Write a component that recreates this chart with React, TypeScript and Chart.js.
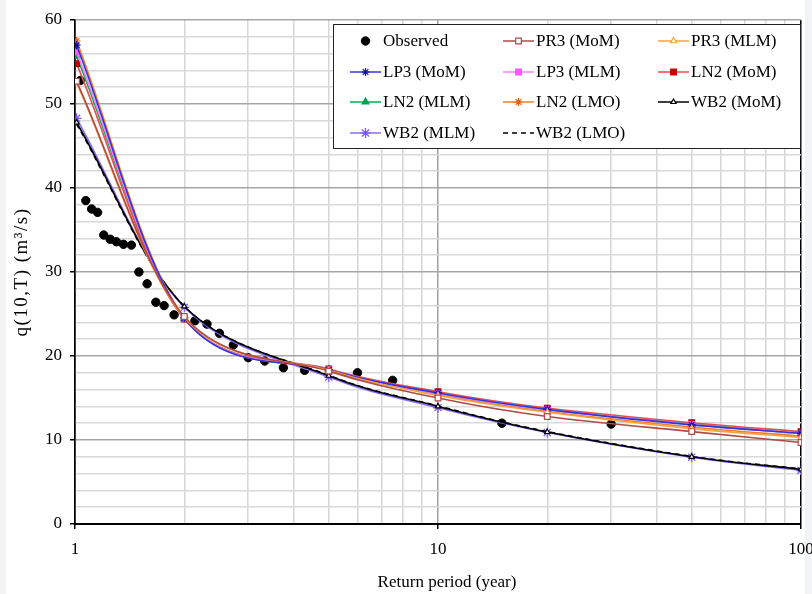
import React, { useEffect, useRef } from 'react';
import { Chart, registerables } from 'chart.js';
import { drawPoint } from 'chart.js/helpers';

Chart.register(...registerables);

const FONT = '"Liberation Serif", "Times New Roman", serif';

// Return periods of the fitted curves (markers)
const T_FIT = [1.01, 2, 5, 10, 20, 50, 100];

// Observed (plotting positions, year) and values (m3/s)
const OBS_T = [30, 15, 7.5, 6, 4.29, 3.75, 3.33, 3, 2.73, 2.5, 2.31, 2.14, 1.875, 1.76, 1.67, 1.58, 1.5, 1.43, 1.36, 1.3, 1.25, 1.2, 1.154, 1.111, 1.071, 1.034];
const OBS_Q = [11.9, 12.0, 17.1, 18.0, 18.3, 18.6, 19.4, 19.8, 21.3, 22.7, 23.8, 24.2, 24.9, 26.0, 26.4, 28.6, 30.0, 33.2, 33.3, 33.6, 33.9, 34.4, 37.1, 37.5, 38.5, 52.8];

const PR3_MOM = [52.7, 24.7, 18.2, 15.0, 12.8, 11.0, 9.7];
const PR3_MLM = [52.5, 24.6, 18.3, 15.3, 13.3, 11.35, 10.3];
const LP3_MOM = [57.0, 24.5, 18.35, 15.6, 13.65, 11.8, 10.8];
const LP3_MLM = [56.2, 24.5, 18.35, 15.55, 13.6, 11.85, 10.75];
const LN2_MOM = [54.8, 24.4, 18.45, 15.75, 13.8, 12.05, 11.0];
const LN2_MLM = [55.7, 24.45, 18.4, 15.6, 13.6, 11.9, 10.75];
const LN2_LMO = [57.5, 24.6, 18.3, 15.45, 13.4, 11.55, 10.45];
const WB2_MOM = [47.8, 25.9, 17.65, 14.0, 10.95, 8.0, 6.5];
const WB2_MLM = [48.3, 25.8, 17.5, 13.85, 10.9, 7.95, 6.4];
const WB2_LMO = [47.6, 25.9, 17.7, 14.05, 11.0, 8.05, 6.55];

const X_TICKS = [1, 2, 3, 4, 5, 6, 7, 8, 9, 10, 20, 30, 40, 50, 60, 70, 80, 90, 100];
const X_LABELS = [1, 10, 100];

const Y_TITLE = 'q(10,T) (m³/s)';
const X_TITLE = 'Return period (year)';

function curve(label: string, ys: number[], line: string, marker: string, pointStyle: any, fill: string, extra: any = {}) {
  return {
    label,
    data: T_FIT.map((t, i) => ({ x: t, y: ys[i] })),
    borderColor: line,
    backgroundColor: fill,
    pointStyle,
    pointBackgroundColor: fill,
    pointBorderColor: marker,
    pointBorderWidth: 1.2,
    pointRadius: 4,
    borderWidth: 1.6,
    tension: 0.3,
    order: 0,
    ...extra,
  };
}

// Spreadsheet-style smoothing: Bezier control points at 1/6 of the neighbour chord
const smoothPlugin = {
  id: 'spreadsheetSmooth',
  beforeDatasetDraw(chart: any, args: any) {
    const meta = args.meta;
    const line = meta.dataset;
    if (!line || !line.options || !line.options.tension) return;
    line.updateControlPoints(chart.chartArea, meta.iScale ? meta.iScale.axis : 'x');
    const pts = meta.data;
    const n = pts.length;
    for (let i = 0; i < n; i++) {
      const p = pts[i];
      const prev = pts[i - 1];
      const next = pts[i + 1];
      if (prev && next) {
        const dx = (next.x - prev.x) / 6;
        const dy = (next.y - prev.y) / 6;
        p.cp1x = p.x - dx; p.cp1y = p.y - dy;
        p.cp2x = p.x + dx; p.cp2y = p.y + dy;
      } else if (next) {
        p.cp1x = p.x; p.cp1y = p.y;
        p.cp2x = p.x + (next.x - p.x) / 3; p.cp2y = p.y + (next.y - p.y) / 3;
      } else if (prev) {
        p.cp1x = p.x - (p.x - prev.x) / 3; p.cp1y = p.y - (p.y - prev.y) / 3;
        p.cp2x = p.x; p.cp2y = p.y;
      }
    }
    line._path = undefined;
  },
};

export default function App() {
  const ref = useRef<HTMLCanvasElement>(null);

  useEffect(() => {
    const canvas = ref.current!;
    const datasets: any[] = [
      {
        label: 'Observed',
        data: OBS_T.map((t, i) => ({ x: t, y: OBS_Q[i] })),
        showLine: false,
        pointStyle: 'circle',
        pointRadius: 4.2,
        pointBackgroundColor: '#000',
        pointBorderColor: '#000',
        borderColor: '#000',
        backgroundColor: '#000',
        tension: 0,
        order: 1,
      },
      curve('PR3 (MoM)', PR3_MOM, '#b04a45', '#b04a45', 'rect', '#ffffff'),
      curve('PR3 (MLM)', PR3_MLM, '#f8a040', '#f8a040', 'triangle', '#ffffff', { pointRadius: 3.5 }),
      curve('LP3 (MoM)', LP3_MOM, '#3333e0', '#1010b0', 'star', '#1010b0'),
      curve('LP3 (MLM)', LP3_MLM, '#ff80ff', '#ff55ff', 'rect', '#ff55ff'),
      curve('LN2 (MoM)', LN2_MOM, '#e05050', '#c00000', 'rect', '#c00000'),
      curve('LN2 (MLM)', LN2_MLM, '#00b050', '#00a050', 'triangle', '#00a050'),
      curve('LN2 (LMO)', LN2_LMO, '#f08020', '#e06010', 'star', '#e06010'),
      curve('WB2 (MoM)', WB2_MOM, '#000000', '#000000', 'triangle', '#ffffff', { pointRadius: 3 }),
      curve('WB2 (MLM)', WB2_MLM, '#8a6cff', '#7a55ff', 'star', '#7a55ff', { pointRadius: 5 }),
      curve('WB2 (LMO)', WB2_LMO, '#000000', '#000000', 'circle', '#000000', { pointRadius: 0, borderDash: [5, 4] }),
    ];

    const bgPlugin = {
      id: 'bg',
      beforeDraw(chart: any) {
        const { ctx, width, height } = chart;
        ctx.save();
        ctx.fillStyle = '#f2f3f5';
        ctx.fillRect(0, 0, width, height);
        ctx.fillStyle = '#ffffff';
        ctx.fillRect(6, 0, 799, height);
        ctx.restore();
      },
    };

    const overlayPlugin = {
      id: 'overlay',
      afterDraw(chart: any) {
        const { ctx, chartArea } = chart;
        ctx.save();
        // axis titles
        ctx.fillStyle = '#000';
        ctx.font = `17px ${FONT}`;
        ctx.textAlign = 'center';
        ctx.textBaseline = 'middle';
        ctx.fillText(X_TITLE, 447, 583);
        ctx.save();
        ctx.font = `19px ${FONT}`;
        try { (ctx as any).letterSpacing = '1.5px'; } catch (e) { /* ignore */ }
        ctx.translate(22, (chartArea.top + chartArea.bottom) / 2);
        ctx.rotate(-Math.PI / 2);
        ctx.fillText(Y_TITLE, 0, 0);
        try { (ctx as any).letterSpacing = '0px'; } catch (e) { /* ignore */ }
        ctx.restore();

        // legend box
        const bx = 333, by = 24, bw = 467, bh = 124;
        ctx.fillStyle = '#ffffff';
        ctx.fillRect(bx, by, bw, bh);
        ctx.strokeStyle = '#222';
        ctx.lineWidth = 1;
        ctx.strokeRect(bx + 0.5, by + 0.5, bw, bh);

        const colX = [350, 503, 658];
        const rowY = [41, 72, 102, 133];
        chart.data.datasets.forEach((ds: any, i: number) => {
          const col = i % 3;
          const row = Math.floor(i / 3);
          const x0 = colX[col];
          const y = rowY[row];
          if (ds.showLine !== false) {
            ctx.save();
            ctx.strokeStyle = ds.borderColor;
            ctx.lineWidth = 1.5;
            ctx.setLineDash(ds.borderDash || []);
            ctx.beginPath();
            ctx.moveTo(x0, y);
            ctx.lineTo(x0 + 31, y);
            ctx.stroke();
            ctx.restore();
          }
          if ((ds.pointRadius ?? 4) > 0) {
            ctx.save();
            ctx.fillStyle = ds.pointBackgroundColor;
            ctx.strokeStyle = ds.pointBorderColor;
            ctx.lineWidth = ds.pointBorderWidth ?? 1;
            drawPoint(ctx, { pointStyle: ds.pointStyle, rotation: 0, radius: ds.pointRadius ?? 4, borderWidth: ds.pointBorderWidth ?? 1 } as any, x0 + 15.5, y);
            ctx.restore();
          }
          ctx.fillStyle = '#000';
          ctx.font = `17px ${FONT}`;
          ctx.textAlign = 'left';
          ctx.textBaseline = 'middle';
          ctx.fillText(ds.label, x0 + 33, y + 1);
        });
        ctx.restore();
      },
    };

    const isMajorX = (v: number) => X_LABELS.includes(v);

    const chart = new Chart(canvas, {
      type: 'line',
      data: { datasets },
      plugins: [bgPlugin, smoothPlugin, overlayPlugin],
      options: {
        animation: false,
        responsive: false,
        devicePixelRatio: 1,
        layout: { padding: { top: 20, right: 11, left: 0, bottom: 0 } },
        plugins: { legend: { display: false }, tooltip: { enabled: false } },
        scales: {
          x: {
            type: 'logarithmic',
            min: 1,
            max: 100,
            afterBuildTicks: (s: any) => {
              s.ticks = X_TICKS.map((v) => ({ value: v }));
            },
            afterFit: (s: any) => {
              s.height = 70;
              s.paddingLeft = 0;
              s.paddingRight = 0;
            },
            ticks: {
              autoSkip: false,
              maxRotation: 0,
              minRotation: 0,
              padding: 10,
              color: '#000',
              font: { family: FONT, size: 17 },
              callback: (v: any) => (isMajorX(Number(v)) ? String(v) : ''),
            },
            grid: {
              color: (c: any) => {
                const v = c.tick?.value;
                if (v === 100 || v === 1) return '#000';
                return isMajorX(v) ? '#a0a0a0' : '#d6d6d6';
              },
              lineWidth: 1.5,
              tickLength: 5,
              tickColor: (c: any) => (isMajorX(c.tick?.value) ? '#000' : 'rgba(0,0,0,0)'),
            },
            border: { color: '#000', width: 2 },
          },
          y: {
            type: 'linear',
            min: 0,
            max: 60,
            afterFit: (s: any) => {
              s.width = 75;
              s.paddingTop = 0;
              s.paddingBottom = 0;
            },
            ticks: {
              stepSize: 2,
              autoSkip: false,
              padding: 8,
              color: '#000',
              font: { family: FONT, size: 17 },
              callback: (v: any) => (Number(v) % 10 === 0 ? String(v) : ''),
            },
            grid: {
              color: (c: any) => (c.tick?.value % 10 === 0 ? '#a6a6a6' : '#d9d9d9'),
              lineWidth: 1.5,
              tickLength: 5,
              tickColor: (c: any) => (c.tick?.value % 10 === 0 ? '#000' : 'rgba(0,0,0,0)'),
            },
            border: { color: '#000', width: 1.5 },
          },
        },
      } as any,
    });

    return () => chart.destroy();
  }, []);

  return (
    <div style={{ position: 'fixed', left: 0, top: 0, width: 812, height: 594, background: '#f2f3f5' }}>
      <canvas ref={ref} width={812} height={594} style={{ display: 'block', width: 812, height: 594 }} />
    </div>
  );
}
